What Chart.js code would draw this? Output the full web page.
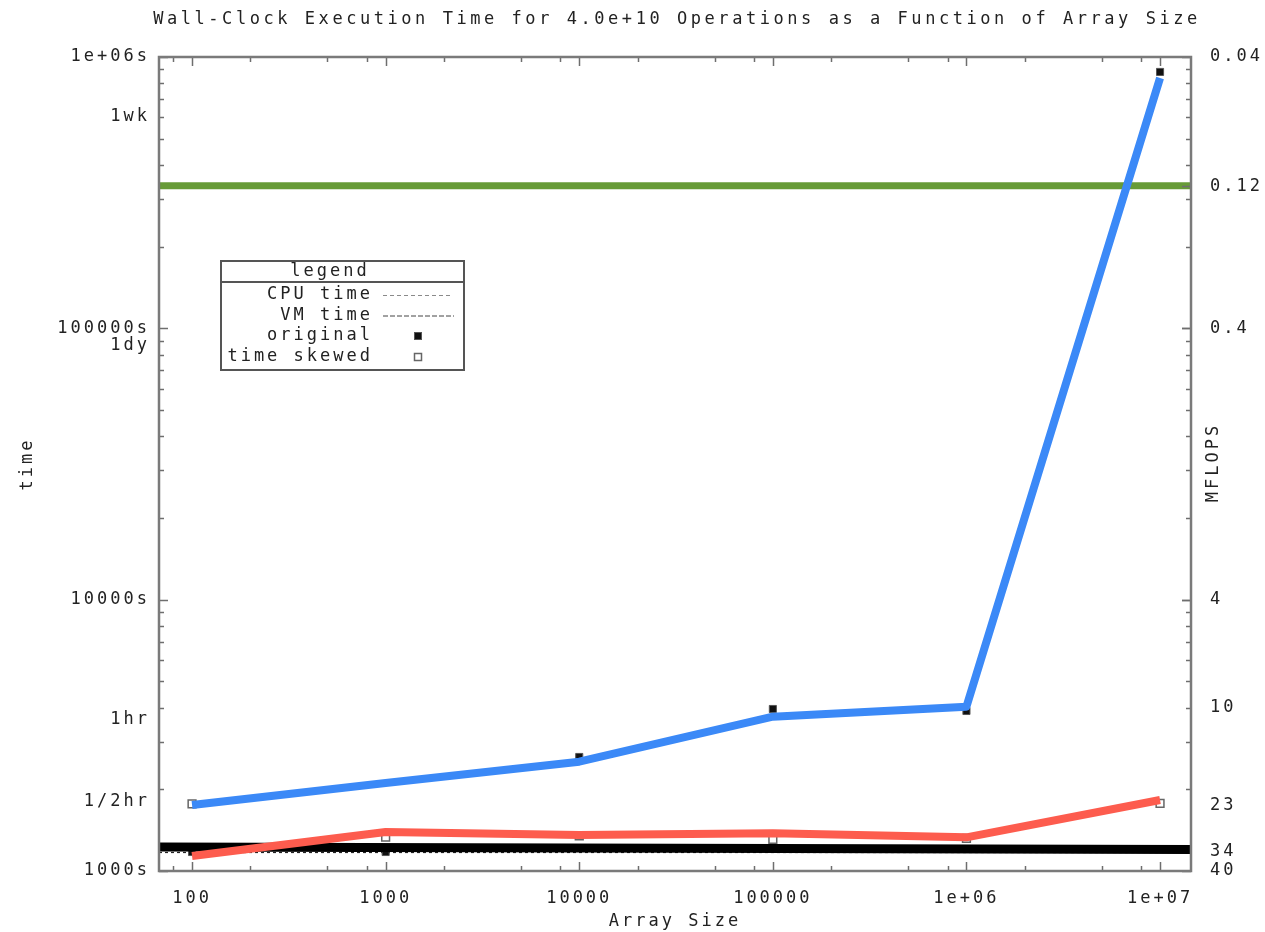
<!DOCTYPE html>
<html>
<head>
<meta charset="utf-8">
<title>Wall-Clock Execution Time</title>
<script src="https://cdn.jsdelivr.net/npm/chart.js@4.4.1/dist/chart.umd.min.js"></script>
<style>
  html, body { margin: 0; padding: 0; background: #ffffff; }
  canvas { display: block; }
</style>
</head>
<body>
<canvas id="chart" width="1265" height="932"></canvas>
<script>
// ---- data -------------------------------------------------------------
const arraySizes      = [100, 1000, 10000, 100000, 1000000, 10000000];
const sizeTickLabels  = ['100', '1000', '10000', '100000', '1e+06', '1e+07'];
const sizeRange       = [67.5, 1.445e7];

// measured wall-clock seconds
const originalTimes   = [1175, 1175, 2632, 3955, 3888, 881000];
const skewedTimes     = [1766, 1334, 1346, 1308, 1320, 1776];
// fitted wall-clock curves
const originalCurve   = [1751, 2110, 2528, 3705, 4033, 837000];
const skewedCurve     = [1136, 1392, 1358, 1377, 1331, 1827];
// flat reference levels across the whole size range (seconds)
const peakLevel       = [335000, 335000];
const floorLevel      = [1226, 1200];
const cpuLevel        = [1170, 1170];

const timeRange       = [1000, 1000000];
const timeTicks       = [1000, 1800, 3600, 10000, 86400, 100000, 604800, 1000000];
const timeTickLabels  = ['1000s', '1/2hr', '1hr', '10000s', '1dy', '100000s', '1wk', '1e+06s'];

const mflopsRange      = [0.04, 40];
const mflopsTicks      = [0.04, 0.12, 0.4, 4, 10, 23, 34, 40];
const mflopsTickLabels = ['0.04', '0.12', '0.4', '4', '10', '23', '34', '40'];
const mflopsMarked     = [0.12, 0.4, 4];

const legendEntries   = ['CPU time', 'VM time', 'original', 'time skewed'];
const chartTitle      = 'Wall-Clock Execution Time for 4.0e+10 Operations as a Function of Array Size';

// ---- styling ----------------------------------------------------------
const FAMILY  = '"DejaVu Sans Mono", "Liberation Mono", monospace';
const SIZE    = 17;
const SPACING = 3;
const TEXT    = '#222222';
const FRAME   = '#7a7a7a';

const pairs = (xs, ys) => xs.map((x, i) => ({ x, y: ys[i] }));

// wide, evenly spaced glyphs for every text the chart draws
const spacingPlugin = {
  id: 'spacing',
  beforeUpdate(chart) { chart.ctx.letterSpacing = SPACING + 'px'; },
  beforeLayout(chart) { chart.ctx.letterSpacing = SPACING + 'px'; },
  beforeDraw(chart)   { chart.ctx.letterSpacing = SPACING + 'px'; }
};

// frame, inward tick marks, title, right-axis title and the boxed key
const decorPlugin = {
  id: 'decor',
  afterDraw(chart) {
    const ctx = chart.ctx;
    const { left, right, top, bottom } = chart.chartArea;
    const xs = chart.scales.x, ys = chart.scales.y, y2s = chart.scales.y2;
    ctx.save();

    // inward ticks
    const seg = (x1, y1, x2, y2) => { ctx.beginPath(); ctx.moveTo(x1, y1); ctx.lineTo(x2, y2); ctx.stroke(); };
    ctx.strokeStyle = '#6e6e6e';
    ctx.lineWidth = 1.5;
    const MAJ = 9, MIN = 5;

    const xMinor = [];
    for (let d = 10; d <= 1e6; d *= 10) [2, 5, 8].forEach(m => xMinor.push(m * d));
    xMinor.filter(v => v >= sizeRange[0] && v <= sizeRange[1]).forEach(v => {
      const p = Math.round(xs.getPixelForValue(v)) + 0.5;
      seg(p, bottom, p, bottom - MIN); seg(p, top, p, top + MIN);
    });
    arraySizes.forEach(v => {
      const p = Math.round(xs.getPixelForValue(v)) + 0.5;
      seg(p, bottom, p, bottom - MAJ); seg(p, top, p, top + MAJ);
    });

    const yMinor = [];
    for (let d = 1000; d < 1e6; d *= 10) for (let m = 2; m <= 9; m++) yMinor.push(m * d);
    yMinor.forEach(v => {
      const p = Math.round(ys.getPixelForValue(v)) + 0.5;
      seg(left, p, left + MIN, p); seg(right, p, right - MIN, p);
    });
    [1000, 10000, 100000, 1000000].forEach(v => {
      const p = Math.round(ys.getPixelForValue(v)) + 0.5;
      seg(left, p, left + MAJ, p); seg(right, p, right - MAJ, p);
    });
    mflopsMarked.forEach(v => {
      const p = Math.round(y2s.getPixelForValue(v)) + 0.5;
      seg(right, p, right - MAJ, p);
    });

    // frame
    ctx.strokeStyle = FRAME;
    ctx.lineWidth = 2.5;
    ctx.strokeRect(left, top, right - left, bottom - top);

    // title
    ctx.fillStyle = TEXT;
    ctx.font = SIZE + 'px ' + FAMILY;
    ctx.letterSpacing = '3.55px';
    ctx.textAlign = 'center';
    ctx.textBaseline = 'middle';
    ctx.fillText(chartTitle, (left + right) / 2 + 2, 20);

    // right axis title
    ctx.letterSpacing = SPACING + 'px';
    ctx.save();
    ctx.translate(right + 23, (top + bottom) / 2);
    ctx.rotate(-Math.PI / 2);
    ctx.fillText('MFLOPS', SPACING / 2, 0);
    ctx.restore();

    // key box
    const bx = 221, by = 261, bw = 243, bh = 109;
    ctx.fillStyle = '#ffffff';
    ctx.fillRect(bx, by, bw, bh);
    ctx.strokeStyle = '#555555';
    ctx.lineWidth = 2;
    ctx.strokeRect(bx, by, bw, bh);
    seg(bx, by + 21, bx + bw, by + 21);

    ctx.fillStyle = TEXT;
    ctx.textAlign = 'center';
    ctx.fillText('legend', 330, by + 11);

    const rowY = [295, 315.5, 336, 357];
    ctx.textAlign = 'right';
    legendEntries.forEach((t, i) => ctx.fillText(t, 370 + SPACING, rowY[i]));

    ctx.lineWidth = 1;
    ctx.strokeStyle = '#8a8a8a';
    ctx.setLineDash([4, 3]);
    seg(383, rowY[0] + 0.5, 452, rowY[0] + 0.5);
    ctx.strokeStyle = '#444444';
    ctx.setLineDash([5, 2]);
    seg(383, rowY[1] + 0.5, 454, rowY[1] + 0.5);
    ctx.setLineDash([]);

    ctx.fillStyle = '#111111';
    ctx.strokeStyle = '#555555';
    ctx.fillRect(414.5, rowY[2] - 3.5, 7, 7);
    ctx.strokeRect(414.5, rowY[2] - 3.5, 7, 7);
    ctx.fillStyle = '#ffffff';
    ctx.strokeStyle = '#666666';
    ctx.lineWidth = 1.5;
    ctx.fillRect(414.5, rowY[3] - 3.5, 7, 7);
    ctx.strokeRect(414.5, rowY[3] - 3.5, 7, 7);

    ctx.restore();
  }
};

const lineSet = (label, data, color, width, order, extra) => Object.assign({
  label, data, borderColor: color, backgroundColor: color, borderWidth: width,
  pointRadius: 0, borderCapStyle: 'butt', borderJoinStyle: 'round', tension: 0, order
}, extra || {});

const tickFont = { family: FAMILY, size: SIZE };

new Chart(document.getElementById('chart'), {
  type: 'line',
  data: {
    datasets: [
      lineSet('skewed curve', pairs(arraySizes, skewedCurve), '#fd5c4e', 8, 1),
      lineSet('floor', pairs(sizeRange, floorLevel), '#000000', 9, 2),
      lineSet('original curve', pairs(arraySizes, originalCurve), '#3b89f7', 8, 3),
      lineSet('peak', pairs(sizeRange, peakLevel), '#679b37', 7, 4),
      lineSet('CPU time', pairs(sizeRange, cpuLevel), '#222222', 1.2, 7, { borderDash: [3, 3] }),
      {
        label: 'original', data: pairs(arraySizes, originalTimes), showLine: false,
        pointStyle: 'rect', pointRadius: 5, backgroundColor: '#111111',
        borderColor: '#555555', borderWidth: 1, order: 5
      },
      {
        label: 'time skewed', data: pairs(arraySizes, skewedTimes), showLine: false,
        pointStyle: 'rect', pointRadius: 5.5, backgroundColor: '#ffffff',
        borderColor: '#666666', borderWidth: 1.5, order: 6
      }
    ]
  },
  options: {
    responsive: false,
    animation: false,
    layout: { padding: { top: 57, left: 0, right: 0, bottom: 0 } },
    plugins: { legend: { display: false }, tooltip: { enabled: false }, title: { display: false } },
    scales: {
      x: {
        type: 'logarithmic', position: 'bottom',
        min: sizeRange[0], max: sizeRange[1],
        afterBuildTicks: s => { s.ticks = arraySizes.map(v => ({ value: v })); },
        afterFit: s => { s.height = 61; },
        grid: { display: false, drawTicks: false },
        border: { display: false },
        ticks: {
          autoSkip: false, maxRotation: 0, padding: 17, color: TEXT, font: tickFont,
          callback: v => sizeTickLabels[arraySizes.indexOf(v)] ?? ''
        },
        title: { display: true, text: 'Array Size', color: TEXT, font: tickFont, padding: { top: 0, bottom: 0 } }
      },
      y: {
        type: 'logarithmic', position: 'left',
        min: timeRange[0], max: timeRange[1],
        afterBuildTicks: s => { s.ticks = timeTicks.map(v => ({ value: v })); },
        afterFit: s => { s.width = 159; },
        grid: { display: false, drawTicks: false },
        border: { display: false },
        ticks: {
          autoSkip: false, padding: 9, color: TEXT, font: tickFont,
          callback: v => timeTickLabels[timeTicks.indexOf(v)] ?? ''
        },
        title: { display: true, text: 'time', color: TEXT, font: tickFont, padding: { top: 17, bottom: 0 } }
      },
      y2: {
        type: 'logarithmic', position: 'right', reverse: true,
        min: mflopsRange[0], max: mflopsRange[1],
        afterBuildTicks: s => { s.ticks = mflopsTicks.map(v => ({ value: v })); },
        afterFit: s => { s.width = 74; },
        grid: { display: false, drawTicks: false },
        border: { display: false },
        ticks: {
          autoSkip: false, padding: 19, color: TEXT, font: tickFont,
          callback: v => mflopsTickLabels[mflopsTicks.indexOf(v)] ?? ''
        }
      }
    }
  },
  plugins: [spacingPlugin, decorPlugin]
});
</script>
</body>
</html>
